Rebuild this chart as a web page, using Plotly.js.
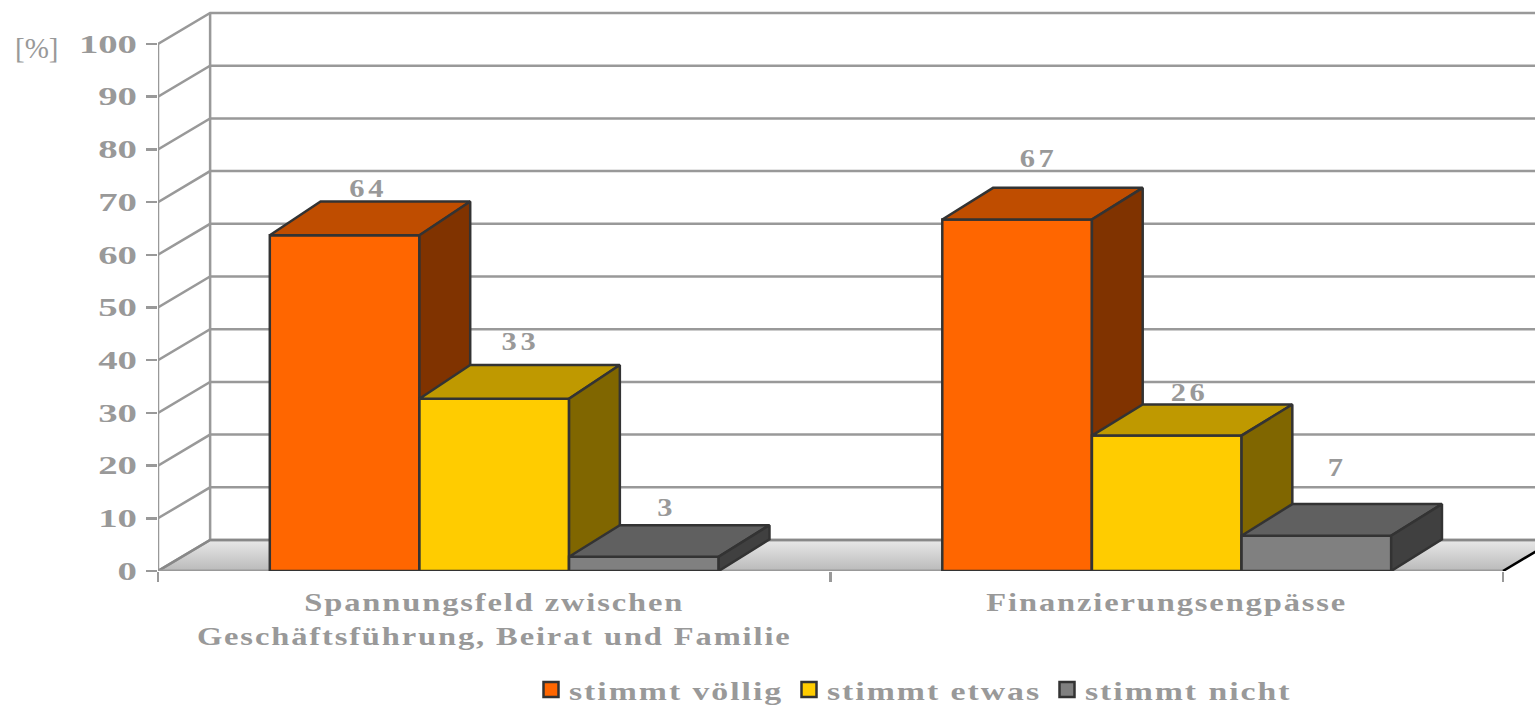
<!DOCTYPE html>
<html><head><meta charset="utf-8">
<script src="https://cdn.plot.ly/plotly-3.0.1.min.js"></script>
<style>html,body{margin:0;padding:0;background:#fff;overflow:hidden}#c{width:1535px;height:706px}
.xtick text,.legendtext{letter-spacing:1.5px}
.textpoint text{letter-spacing:3px}
</style>
</head><body><div id="c"></div>
<script>
const categories = ["Spannungsfeld zwischen<br>Geschäftsführung, Beirat und Familie", "Finanzierungsengpässe"];
const seriesNames = ["stimmt völlig", "stimmt etwas", "stimmt nicht"];
const voellig = [64, 67];
const etwas = [33, 26];
const nicht = [3, 7];
const yTicks = [0,10,20,30,40,50,60,70,80,90,100];
const frontColors = ["#ff6600","#ffcc00","#808080"];
const topColors = ["#bf4d00","#bf9900","#606060"];
const sideColors = ["#803300","#806600","#404040"];
const labelLift = [[2.0,4.0,3],[5.1,1.9,6.6]];
const labelShift = [[0.035,0.039,0.034],[0.032,0.034,0.031]];
const depthY = [[6.4,6.4,6.0],[6.0,5.9,6.0]];

const series = [voellig, etwas, nicht];
const GRID = "#999999", EDGE = "#333333", FONT = "Liberation Serif";
const barW = 0.2225, dx = 0.0755, wallDx = 0.0775, wallDy = 5.88;
const xL = -0.5, xR = 1.5, rangeR = 1.5476, rangeT = 108.35;
const traces = [];

traces.push({type:"scatter",mode:"lines",x:[xL,xR,xR+wallDx,xL+wallDx,xL],y:[0,0,wallDy,wallDy,0],fill:"toself",
  fillgradient:{type:"vertical",colorscale:[[0,"#bababa"],[1,"#e8e8e8"]]},
  line:{color:"rgba(0,0,0,0)",width:0},showlegend:false,hoverinfo:"skip",cliponaxis:false});
const gx=[],gy=[];
yTicks.forEach(t=>{gx.push(xL,xL+wallDx,rangeR,null);gy.push(t,t+wallDy,t+wallDy,null);});
traces.push({type:"scatter",mode:"lines",x:gx,y:gy,line:{color:GRID,width:2.5},showlegend:false,hoverinfo:"skip",cliponaxis:false});
traces.push({type:"scatter",mode:"lines",x:[xL,xL,null,xL+wallDx,xL+wallDx],y:[0,100,null,wallDy,100+wallDy],line:{color:GRID,width:2.5},showlegend:false,hoverinfo:"skip",cliponaxis:false});
traces.push({type:"scatter",mode:"lines",x:[xL,xL+wallDx,rangeR],y:[0,wallDy,wallDy],line:{color:"#888888",width:2.5},showlegend:false,hoverinfo:"skip",cliponaxis:false});
traces.push({type:"scatter",mode:"lines",x:[xL,xR],y:[0,0],line:{color:GRID,width:3},showlegend:false,hoverinfo:"skip",cliponaxis:false});
traces.push({type:"scatter",mode:"lines",x:[xR,xR+wallDx],y:[0,wallDy],line:{color:"#000000",width:2.5},showlegend:false,hoverinfo:"skip"});

function poly(xs,ys,color){
  traces.push({type:"scatter",mode:"lines",x:xs,y:ys,fill:"toself",fillcolor:color,
    line:{color:EDGE,width:2.5,simplify:false},showlegend:false,hoverinfo:"skip",cliponaxis:false});
}
const lx=[],ly=[],lt=[];
categories.forEach((c,ci)=>{
  series.forEach((vals,si)=>{
    const v=vals[ci]-0.3, x0=ci+(si-1.5)*barW, x1=x0+barW, dy=depthY[ci][si];
    poly([x0,x1,x1,x0,x0],[0,0,v,v,0],frontColors[si]);
    poly([x0,x1,x1+dx,x0+dx,x0],[v,v,v+dy,v+dy,v],topColors[si]);
    poly([x1,x1+dx,x1+dx,x1,x1],[0,dy,v+dy,v,0],sideColors[si]);
    lx.push((x0+x1)/2+labelShift[ci][si]);
    ly.push(v+dy+labelLift[ci][si]);
    lt.push(String(vals[ci]));
  });
});
traces.push({type:"scatter",mode:"text",x:lx,y:ly,text:lt,textposition:"middle center",
  textfont:{family:FONT,size:25,color:GRID,weight:700},showlegend:false,hoverinfo:"skip",cliponaxis:false});
seriesNames.forEach((n,i)=>traces.push({type:"scatter",mode:"markers",name:n,x:[null],y:[null],
  marker:{symbol:"square",size:15,color:frontColors[i],line:{color:EDGE,width:2.5}},hoverinfo:"skip"}));

const layout={
  width:1535,height:706,margin:{l:158,r:0,t:0,b:135,pad:0},
  paper_bgcolor:"#fff",plot_bgcolor:"#fff",showlegend:true,hovermode:false,
  font:{family:FONT,color:GRID},
  xaxis:{range:[xL,rangeR],showgrid:false,zeroline:false,showline:false,tickmode:"array",tickvals:[0,1],ticktext:categories,
    ticks:"",tickangle:0,tickfont:{family:FONT,size:26,color:GRID,weight:700},ticklabelstandoff:13,
    minor:{tickmode:"array",tickvals:[xL,0.5,xR],ticks:"outside",ticklen:10,tickwidth:2.5,tickcolor:GRID,showgrid:false}},
  yaxis:{range:[0,rangeT],showgrid:false,zeroline:false,showline:false,tickmode:"array",tickvals:yTicks,
    ticks:"outside",ticklen:11,tickwidth:2.5,tickcolor:GRID,ticklabelstandoff:4,
    tickfont:{family:FONT,size:25,color:GRID,weight:700}},
  legend:{orientation:"h",x:531/1535,xanchor:"left",y:(706-666)/706,yanchor:"top",yref:"container",xref:"container",
    bgcolor:"rgba(0,0,0,0)",borderwidth:0,itemwidth:30,entrywidthmode:"pixels",entrywidth:213,
    font:{family:FONT,size:26,color:GRID,weight:700},itemclick:false,itemdoubleclick:false},
  annotations:[{xref:"paper",yref:"paper",x:-145/1377,y:(571-48)/571,text:"[%]",showarrow:false,xanchor:"left",yanchor:"middle",
    font:{family:FONT,size:29,color:GRID}}]
};
function stretch(el,k){
  const lines=el.querySelectorAll("tspan.line");
  (lines.length?Array.from(lines):[el]).forEach(t=>{
    const L=t.getComputedTextLength();
    t.setAttribute("textLength",(L*k).toFixed(1));
    t.setAttribute("lengthAdjust","spacingAndGlyphs");
  });
}
Plotly.newPlot("c",traces,layout,{displayModeBar:false,staticPlot:true}).then(gd=>{
  gd.querySelectorAll(".xtick text").forEach(e=>stretch(e,1.25));
  gd.querySelectorAll(".ytick text").forEach(e=>stretch(e,1.55));
  gd.querySelectorAll(".textpoint text").forEach(e=>stretch(e,1.22));
  gd.querySelectorAll(".legendtext").forEach(e=>{stretch(e,1.3);e.setAttribute("x","38");});
});
</script></body></html>
